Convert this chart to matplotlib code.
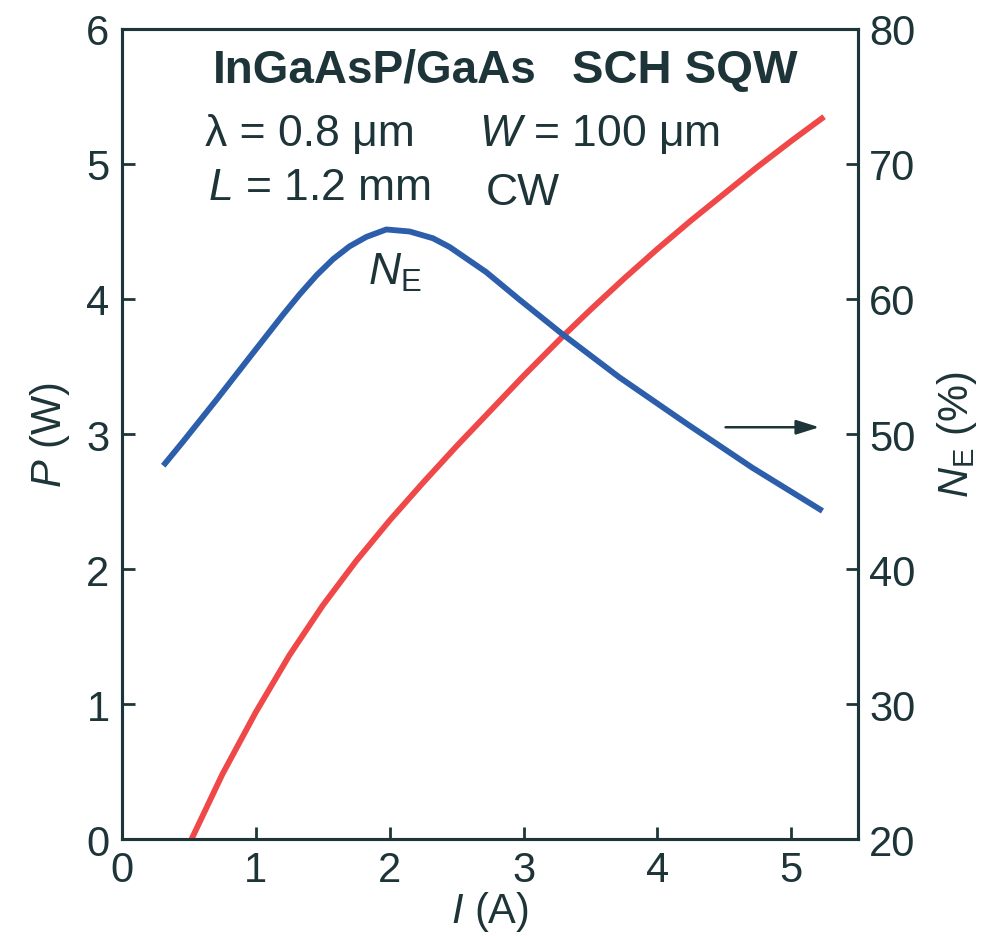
import matplotlib
matplotlib.use("Agg")
from matplotlib import pyplot as plt

# 输出功率 P (W) 与电流 I (A)
i_p = [0.52, 0.75, 1.0, 1.25, 1.5, 1.75, 2.0, 2.25, 2.5, 2.75, 3.0, 3.29,
       3.5, 3.75, 4.0, 4.25, 4.5, 4.75, 5.0, 5.246]
p_w = [0.0, 0.48, 0.94, 1.36, 1.73, 2.06, 2.36, 2.64, 2.91, 3.17, 3.43, 3.72,
       3.92, 4.15, 4.37, 4.58, 4.78, 4.98, 5.17, 5.35]

# 外微分量子效率 N_E (%)
i_ne = [0.308, 0.457, 0.707, 0.955, 1.204, 1.328, 1.453, 1.577, 1.70, 1.826, 1.975, 2.149,
        2.323, 2.448, 2.72, 2.97, 3.29, 3.716, 4.214, 4.71, 5.234]
ne = [47.65, 49.45, 52.55, 55.7, 58.85, 60.35, 61.75, 62.95, 63.9, 64.6, 65.15, 65.0,
      64.5, 63.85, 62.0, 59.95, 57.4, 54.2, 50.8, 47.5, 44.3]

x_ticks = [0, 1, 2, 3, 4, 5]
p_ticks = [0, 1, 2, 3, 4, 5, 6]
ne_ticks = [20, 30, 40, 50, 60, 70, 80]

plt.rcParams['font.family'] = ['Liberation Sans', 'DejaVu Sans']
plt.rcParams['mathtext.fontset'] = 'custom'
plt.rcParams['mathtext.rm'] = 'Liberation Sans'
plt.rcParams['mathtext.it'] = 'Liberation Sans:italic'
plt.rcParams['mathtext.bf'] = 'Liberation Sans:bold'

ink = '#1d3538'
red = '#f04848'
blue = '#2c5eab'
fs = 30   # 刻度
ts = 32   # 图中文字

fig = plt.figure(figsize=(9.92, 9.37), dpi=100)
ax = fig.add_axes([0.123, 0.1035, 0.742, 0.8645])
ax2 = ax.twinx()

ax.plot(i_p, p_w, color=red, lw=4.2, solid_capstyle='butt', solid_joinstyle='round')
ax2.plot(i_ne, ne, color=blue, lw=4.2, solid_capstyle='butt', solid_joinstyle='round')

ax.set_xlim(0, 5.5)
ax.set_ylim(0, 6)
ax2.set_ylim(20, 80)
ax.set_xticks(x_ticks)
ax.set_yticks(p_ticks)
ax2.set_yticks(ne_ticks)

for a in (ax, ax2):
    for s in a.spines.values():
        s.set_linewidth(2.2)
        s.set_color(ink)
    a.tick_params(direction='in', length=9, width=2, colors=ink, labelsize=fs, labelcolor=ink)
ax.tick_params(axis='x', pad=8)
ax.tick_params(axis='y', pad=9)
ax2.tick_params(axis='y', pad=8)

ax.set_xlabel(r'$\mathit{I}$ (A)', fontsize=fs, color=ink, labelpad=-1)
ax.set_ylabel(r'$\mathit{P}$ (W)', fontsize=fs, color=ink, labelpad=10)
ax2.set_ylabel(r'$N_{\mathrm{E}}$ (%)', fontsize=fs, color=ink, rotation=90, labelpad=14)

#图中注释文字
ax.text(0.68, 5.61, 'InGaAsP/GaAs', fontsize=33, fontweight='bold', color=ink, va='baseline')
ax.text(3.36, 5.61, 'SCH SQW', fontsize=34, fontweight='bold', color=ink, va='baseline')
ax.text(0.62, 5.14, 'λ = 0.8 μm', fontsize=ts, color=ink, va='baseline')
ax.text(2.67, 5.14, r'$\mathit{W}$ = 100 μm', fontsize=ts, color=ink, va='baseline')
ax.text(0.64, 4.74, r'$\mathit{L}$ = 1.2 mm', fontsize=ts, color=ink, va='baseline')
ax.text(2.72, 4.70, 'CW', fontsize=ts, color=ink, va='baseline')
ax.text(1.84, 4.11, r'$N_{\mathrm{E}}$', fontsize=ts, color=ink, va='baseline')

ax2.annotate('', xy=(5.21, 50.5), xytext=(4.51, 50.5),
             arrowprops=dict(arrowstyle='-|>,head_length=0.7,head_width=0.22',
                             color=ink, lw=1.8, mutation_scale=20, shrinkA=0, shrinkB=0))

plt.savefig('out.png', dpi=100)
